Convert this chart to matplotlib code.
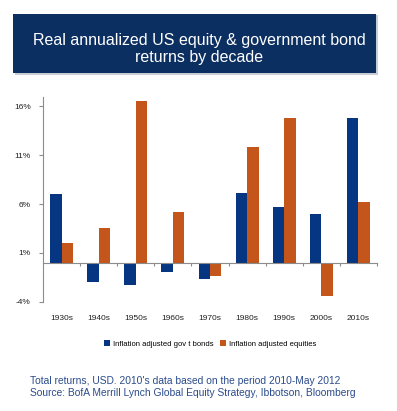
import matplotlib
matplotlib.use("Agg")
import matplotlib.pyplot as plt
import matplotlib.transforms as mtransforms
from matplotlib.patches import FancyBboxPatch
import numpy as np

plt.rcParams['font.family'] = ['Liberation Sans', 'DejaVu Sans']

decades = ["1930s", "1940s", "1950s", "1960s", "1970s", "1980s", "1990s", "2000s", "2010s"]
bonds = [7.0, -2.0, -2.3, -1.0, -1.7, 7.1, 5.7, 5.0, 14.8]
equities = [2.0, 3.6, 16.6, 5.2, -1.4, 11.8, 14.8, -3.4, 6.2]
yticks = [-4, 1, 6, 11, 16]
ytick_labels = ["-4%", "1%", "6%", "11%", "16%"]
bond_label = "Inflation adjusted gov t bonds"
eq_label = "Inflation adjusted equities"
title = "Real annualized US equity & government bond\nreturns by decade"
footer = ("Total returns, USD. 2010's data based on the period 2010-May 2012\n"
          "Source: BofA Merrill Lynch Global Equity Strategy, Ibbotson, Bloomberg")

bond_color = "#063582"
eq_color = "#c4561b"
axis_color = "#8c8c8c"
footer_color = "#2b4c8c"

W, H = 397, 411
fig = plt.figure(figsize=(W / 100, H / 100), dpi=100)
fig.patch.set_facecolor("white")

# Title box
shadow = FancyBboxPatch((15 / W, 1 - 75 / H), 363 / W, 60 / H,
                        boxstyle="square,pad=0", transform=fig.transFigure,
                        facecolor="#c8ccd6", edgecolor="none", zorder=0)
fig.patches.append(shadow)
box = FancyBboxPatch((13 / W, 1 - 73 / H), 363 / W, 59 / H,
                     boxstyle="square,pad=0", transform=fig.transFigure,
                     facecolor="#0c2f61", edgecolor="none", zorder=1)
fig.patches.append(box)
fig.text(199 / W, 1 - 49 / H, title, ha="center", va="center", color="white",
         fontsize=11.5, linespacing=1.1, zorder=2)

# Axes
ax_left, ax_right = 43.3, 376.7
ax_top, ax_bottom = 96.7, 301.7
ax = fig.add_axes([ax_left / W, 1 - ax_bottom / H, (ax_right - ax_left) / W, (ax_bottom - ax_top) / H])
ax.set_facecolor("none")

x = np.arange(len(decades))
w = 0.31
ax.bar(x - w / 2, bonds, width=w, color=bond_color, label=bond_label, zorder=2)
ax.bar(x + w / 2, equities, width=w, color=eq_color, label=eq_label, zorder=2)

ax.set_xlim(-0.5, len(decades) - 0.5)
ax.set_ylim(-4, 17)

for s in ["top", "right"]:
    ax.spines[s].set_visible(False)
ax.spines["left"].set_color(axis_color)
ax.spines["bottom"].set_color(axis_color)
ax.spines["bottom"].set_position(("data", 0))
ax.spines["left"].set_linewidth(0.8)
ax.spines["bottom"].set_linewidth(0.8)

ax.set_yticks(yticks)
ax.set_yticklabels(ytick_labels)
ax.tick_params(axis="y", length=3, width=0.8, color=axis_color, labelsize=6, pad=6, labelcolor="#222222")
ax.set_xticks(np.arange(len(decades)) + 0.5)
ax.set_xticklabels([])
ax.tick_params(axis="x", length=2.5, width=0.8, color=axis_color, direction="out")

trans = mtransforms.blended_transform_factory(ax.transData, fig.transFigure)
for xi, lab in zip(x, decades):
    ax.text(xi, 1 - 318 / H, lab, transform=trans, ha="center", va="center",
            fontsize=6, color="#222222")

leg = fig.legend(loc="center", bbox_to_anchor=(210 / W, 1 - 344 / H), ncol=2, frameon=False,
                 fontsize=5.5, handlelength=0.8, handleheight=0.8, handletextpad=0.4,
                 columnspacing=0.8)

fig.text(30 / W, 1 - 387 / H, footer, ha="left", va="center", color=footer_color,
         fontsize=7.35, linespacing=1.15)

fig.savefig("out.png", dpi=100, facecolor="white")
